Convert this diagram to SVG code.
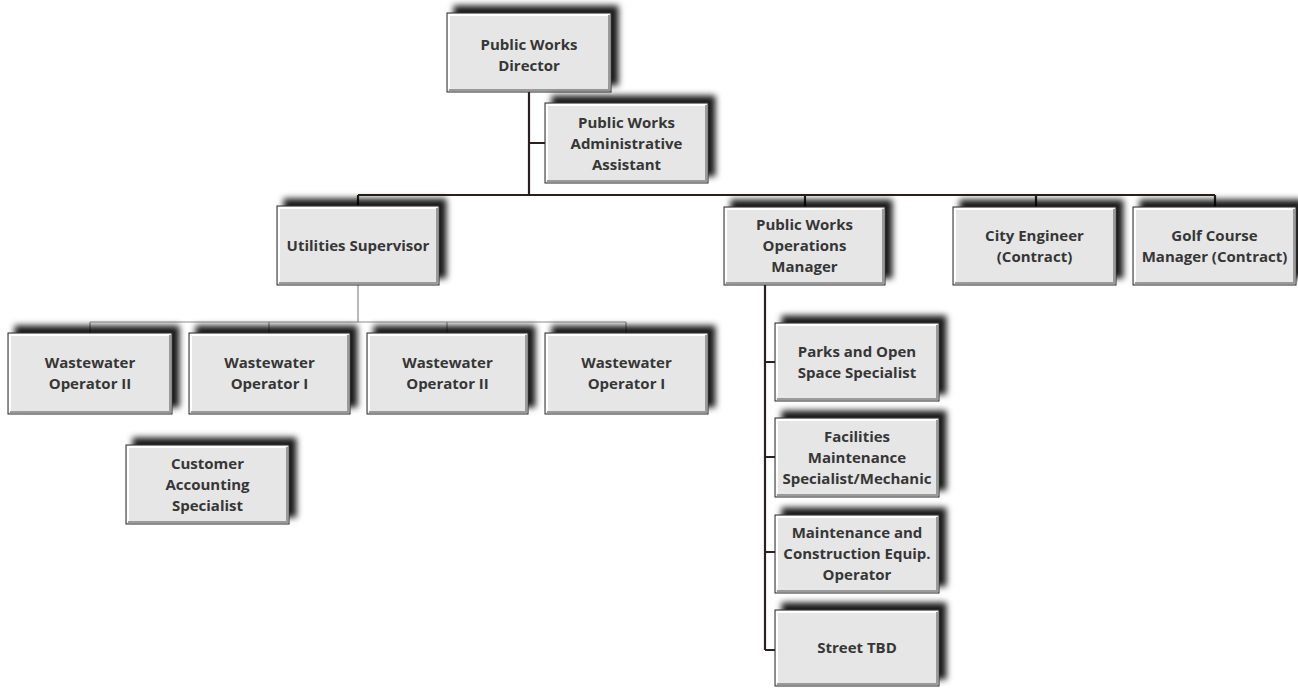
<svg xmlns="http://www.w3.org/2000/svg" width="1298" height="688" viewBox="0 0 1298 688">
<style>
.box{fill:#e6e6e6;stroke:#2a2a2a;stroke-width:1}
.hl{fill:none;stroke:#ffffff;stroke-width:2}
.sh{fill:none;stroke:#9a9a9a;stroke-width:2}
.t{font-family:"Open Sans","Liberation Sans",sans-serif;font-weight:bold;font-size:15px;fill:#363636;text-anchor:middle}
.dk{fill:none;stroke:#2b1f1f;stroke-width:2.2}
.gy{fill:none;stroke:#8c8c8c;stroke-width:1.2}
</style>
<defs>
<filter id="ds" x="-20%" y="-30%" width="140%" height="160%">
<feGaussianBlur in="SourceAlpha" stdDeviation="3" result="b"/>
<feOffset in="b" dx="7" dy="-7" result="o"/>
<feFlood flood-color="#000" flood-opacity="0.9"/>
<feComposite in2="o" operator="in" result="s"/>
<feMerge><feMergeNode in="s"/><feMergeNode in="SourceGraphic"/></feMerge>
</filter>
</defs>
<rect width="1298" height="688" fill="#ffffff"/>
<g id="connectors">
<path class="dk" d="M529 92V195M529 143H545M358 195H1215M358 195V206M805 195V207M1036 195V207M1215 195V207"/>
<path class="gy" d="M358 285V322M90 322H626M90 322V333M269 322V333M447 322V333M626 322V333"/>
<path class="dk" d="M765 285V650M765 362H775M765 457H775M765 552H775M765 650H775"/>
</g>
<g id="director">
<rect class="box" x="447" y="13" width="164" height="79" filter="url(#ds)"/>
<path class="hl" d="M449 90V15H609"/><path class="sh" d="M449 90H609V15"/>
<text class="t" x="529" y="50">Public Works</text><text class="t" x="529" y="71">Director</text>
</g>
<g id="admin">
<rect class="box" x="545" y="103" width="163" height="80" filter="url(#ds)"/>
<path class="hl" d="M547 181V105H706"/><path class="sh" d="M547 181H706V105"/>
<text class="t" x="626.5" y="128">Public Works</text><text class="t" x="626.5" y="149">Administrative</text><text class="t" x="626.5" y="170">Assistant</text>
</g>
<g id="utilities">
<rect class="box" x="277" y="206" width="162" height="79" filter="url(#ds)"/>
<path class="hl" d="M279 283V208H437"/><path class="sh" d="M279 283H437V208"/>
<text class="t" x="358" y="251">Utilities Supervisor</text>
</g>
<g id="opsmgr">
<rect class="box" x="724" y="207" width="161" height="78" filter="url(#ds)"/>
<path class="hl" d="M726 283V209H883"/><path class="sh" d="M726 283H883V209"/>
<text class="t" x="804.5" y="230">Public Works</text><text class="t" x="804.5" y="251">Operations</text><text class="t" x="804.5" y="272">Manager</text>
</g>
<g id="cityeng">
<rect class="box" x="953" y="207" width="163" height="78" filter="url(#ds)"/>
<path class="hl" d="M955 283V209H1114"/><path class="sh" d="M955 283H1114V209"/>
<text class="t" x="1034.5" y="241">City Engineer</text><text class="t" x="1034.5" y="262">(Contract)</text>
</g>
<g id="golf">
<rect class="box" x="1133" y="207" width="163" height="78" filter="url(#ds)"/>
<path class="hl" d="M1135 283V209H1294"/><path class="sh" d="M1135 283H1294V209"/>
<text class="t" x="1214.5" y="241">Golf Course</text><text class="t" x="1214.5" y="262">Manager (Contract)</text>
</g>
<g id="ww1">
<rect class="box" x="8" y="333" width="164" height="81" filter="url(#ds)"/>
<path class="hl" d="M10 412V335H170"/><path class="sh" d="M10 412H170V335"/>
<text class="t" x="90" y="368">Wastewater</text><text class="t" x="90" y="389">Operator II</text>
</g>
<g id="ww2">
<rect class="box" x="189" y="333" width="161" height="81" filter="url(#ds)"/>
<path class="hl" d="M191 412V335H348"/><path class="sh" d="M191 412H348V335"/>
<text class="t" x="269.5" y="368">Wastewater</text><text class="t" x="269.5" y="389">Operator I</text>
</g>
<g id="ww3">
<rect class="box" x="367" y="333" width="161" height="81" filter="url(#ds)"/>
<path class="hl" d="M369 412V335H526"/><path class="sh" d="M369 412H526V335"/>
<text class="t" x="447.5" y="368">Wastewater</text><text class="t" x="447.5" y="389">Operator II</text>
</g>
<g id="ww4">
<rect class="box" x="545" y="333" width="163" height="81" filter="url(#ds)"/>
<path class="hl" d="M547 412V335H706"/><path class="sh" d="M547 412H706V335"/>
<text class="t" x="626.5" y="368">Wastewater</text><text class="t" x="626.5" y="389">Operator I</text>
</g>
<g id="customer">
<rect class="box" x="126" y="445" width="163" height="79" filter="url(#ds)"/>
<path class="hl" d="M128 522V447H287"/><path class="sh" d="M128 522H287V447"/>
<text class="t" x="207.5" y="469">Customer</text><text class="t" x="207.5" y="490">Accounting</text><text class="t" x="207.5" y="511">Specialist</text>
</g>
<g id="parks">
<rect class="box" x="775" y="323" width="164" height="78" filter="url(#ds)"/>
<path class="hl" d="M777 399V325H937"/><path class="sh" d="M777 399H937V325"/>
<text class="t" x="857" y="357">Parks and Open</text><text class="t" x="857" y="378">Space Specialist</text>
</g>
<g id="facilities">
<rect class="box" x="775" y="418" width="164" height="79" filter="url(#ds)"/>
<path class="hl" d="M777 495V420H937"/><path class="sh" d="M777 495H937V420"/>
<text class="t" x="857" y="442">Facilities</text><text class="t" x="857" y="463">Maintenance</text><text class="t" x="857" y="484">Specialist/Mechanic</text>
</g>
<g id="maintenance">
<rect class="box" x="775" y="515" width="164" height="78" filter="url(#ds)"/>
<path class="hl" d="M777 591V517H937"/><path class="sh" d="M777 591H937V517"/>
<text class="t" x="857" y="538">Maintenance and</text><text class="t" x="857" y="559">Construction Equip.</text><text class="t" x="857" y="580">Operator</text>
</g>
<g id="street">
<rect class="box" x="775" y="610" width="164" height="76" filter="url(#ds)"/>
<path class="hl" d="M777 684V612H937"/><path class="sh" d="M777 684H937V612"/>
<text class="t" x="857" y="653">Street TBD</text>
</g>
</svg>
